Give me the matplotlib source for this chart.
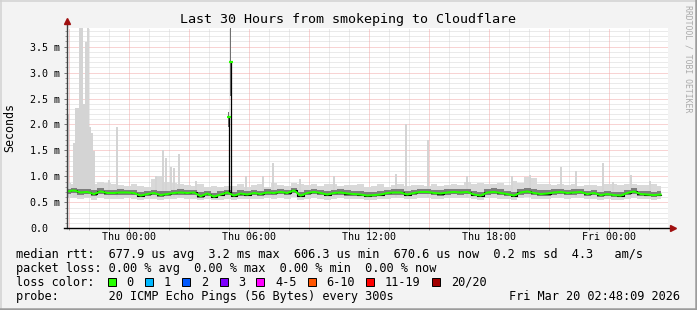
import numpy as np
import matplotlib
matplotlib.use("Agg")
import matplotlib.pyplot as plt
from matplotlib.patches import Rectangle
from matplotlib.lines import Line2D

W, H, DPI = 697, 310, 100
MONO = "DejaVu Sans Mono"

# ---------------- data (ms, hours relative to Thu 00:00) ----------------
T_START = -3.1
T_STEP = 1 / 3  # 20 minute samples

median = [
    0.71, 0.73, 0.69, 0.70, 0.66, 0.71, 0.68, 0.68, 0.69, 0.69,
    0.68, 0.63, 0.66, 0.68, 0.64, 0.66, 0.68, 0.69, 0.68, 0.69,
    0.62, 0.67, 0.61, 0.65, 0.69, 0.63, 0.67, 0.65, 0.68, 0.66,
    0.69, 0.68, 0.70, 0.68, 0.73, 0.63, 0.68, 0.70, 0.68, 0.65,
    0.68, 0.69, 0.67, 0.66, 0.65, 0.63, 0.64, 0.65, 0.68, 0.69,
    0.69, 0.65, 0.68, 0.70, 0.70, 0.68, 0.67, 0.69, 0.70, 0.69,
    0.70, 0.65, 0.63, 0.69, 0.70, 0.68, 0.66, 0.63, 0.69, 0.71,
    0.68, 0.66, 0.67, 0.69, 0.70, 0.68, 0.69, 0.70, 0.66, 0.68,
    0.64, 0.66, 0.64, 0.63, 0.68, 0.71, 0.66, 0.65, 0.64, 0.65,
]
smoke_p75 = [
    0.76, 0.78, 0.75, 0.76, 0.73, 0.77, 0.74, 0.74, 0.75, 0.74,
    0.74, 0.70, 0.72, 0.74, 0.71, 0.72, 0.74, 0.75, 0.73, 0.74,
    0.69, 0.72, 0.68, 0.71, 0.74, 0.69, 0.73, 0.71, 0.74, 0.72,
    0.75, 0.74, 0.76, 0.74, 0.78, 0.70, 0.74, 0.76, 0.74, 0.71,
    0.74, 0.75, 0.73, 0.72, 0.71, 0.69, 0.70, 0.71, 0.74, 0.76,
    0.75, 0.71, 0.74, 0.76, 0.76, 0.74, 0.73, 0.75, 0.76, 0.75,
    0.76, 0.72, 0.70, 0.75, 0.77, 0.75, 0.72, 0.70, 0.76, 0.78,
    0.75, 0.73, 0.73, 0.75, 0.76, 0.74, 0.75, 0.76, 0.72, 0.74,
    0.70, 0.72, 0.70, 0.69, 0.74, 0.77, 0.72, 0.71, 0.70, 0.71,
]
smoke_p25 = [
    0.67, 0.68, 0.65, 0.66, 0.62, 0.67, 0.64, 0.64, 0.65, 0.65,
    0.64, 0.60, 0.63, 0.64, 0.61, 0.63, 0.64, 0.65, 0.64, 0.65,
    0.59, 0.63, 0.58, 0.62, 0.65, 0.60, 0.63, 0.62, 0.64, 0.62,
    0.65, 0.64, 0.66, 0.64, 0.68, 0.60, 0.64, 0.66, 0.64, 0.62,
    0.64, 0.65, 0.63, 0.62, 0.62, 0.60, 0.61, 0.62, 0.64, 0.65,
    0.65, 0.62, 0.64, 0.66, 0.66, 0.64, 0.63, 0.65, 0.66, 0.65,
    0.66, 0.62, 0.60, 0.65, 0.66, 0.64, 0.63, 0.60, 0.65, 0.67,
    0.64, 0.63, 0.63, 0.65, 0.66, 0.64, 0.65, 0.66, 0.63, 0.64,
    0.61, 0.63, 0.61, 0.60, 0.64, 0.67, 0.63, 0.62, 0.61, 0.62,
]
smoke_max = [
    0.87, 0.86, 0.88, 0.88, 0.86, 0.90, 0.88, 0.85, 0.83, 0.82,
    0.85, 0.82, 0.80, 0.95, 1.00, 0.90, 0.88, 0.85, 0.83, 0.82,
    0.85, 0.80, 0.82, 0.80, 0.82, 0.82, 0.85, 0.80, 0.84, 0.85,
    0.80, 0.88, 0.84, 0.82, 0.88, 0.86, 0.84, 0.85, 0.82, 0.85,
    0.86, 0.82, 0.83, 0.84, 0.85, 0.80, 0.82, 0.86, 0.80, 0.84,
    0.86, 0.82, 0.83, 0.84, 0.82, 0.85, 0.82, 0.83, 0.86, 0.84,
    0.90, 0.86, 0.88, 0.85, 0.86, 0.87, 0.83, 0.92, 0.88, 0.98,
    0.96, 0.86, 0.85, 0.83, 0.85, 0.84, 0.86, 0.82, 0.83, 0.84,
    0.82, 0.85, 0.86, 0.84, 0.85, 0.86, 0.83, 0.84, 0.86, 0.82,
]
smoke_min = [
    0.59, 0.58, 0.57, 0.58, 0.55, 0.58, 0.57, 0.56, 0.57, 0.58,
    0.57, 0.55, 0.56, 0.57, 0.55, 0.56, 0.57, 0.58, 0.57, 0.57,
    0.54, 0.56, 0.54, 0.55, 0.57, 0.55, 0.57, 0.56, 0.57, 0.56,
    0.58, 0.57, 0.58, 0.57, 0.60, 0.55, 0.57, 0.58, 0.57, 0.55,
    0.57, 0.58, 0.56, 0.56, 0.56, 0.55, 0.55, 0.56, 0.57, 0.58,
    0.58, 0.56, 0.57, 0.58, 0.59, 0.57, 0.57, 0.58, 0.59, 0.58,
    0.59, 0.56, 0.55, 0.58, 0.59, 0.57, 0.56, 0.55, 0.58, 0.60,
    0.57, 0.56, 0.57, 0.58, 0.59, 0.57, 0.58, 0.59, 0.56, 0.57,
    0.55, 0.56, 0.55, 0.55, 0.57, 0.59, 0.56, 0.56, 0.55, 0.56,
]

# isolated ping spikes (hour, max ms)
spike_t = [-3.08, -2.75, -2.65, -2.55, -2.45, -2.35, -2.25, -2.15, -2.05,
           -1.95, -1.85, -1.75, -1.02, -0.62, 1.33, 1.67, 1.82, 2.08, 2.23,
           2.48, 3.33, 5.83, 6.68, 7.18, 8.53, 10.23, 13.33, 13.83, 14.93,
           16.89, 19.13, 20.03, 21.58, 22.33, 23.68, 24.18, 25.08, 26.03]
spike_max = [2.20, 1.64, 2.32, 2.32, 3.90, 3.90, 2.40, 3.58, 3.90,
             1.96, 1.83, 1.48, 0.93, 1.96, 1.00, 1.50, 1.35, 1.19, 1.16,
             1.43, 0.92, 1.00, 1.00, 1.26, 0.95, 1.00, 1.05, 2.01, 1.70,
             1.00, 1.00, 1.03, 1.19, 1.10, 1.25, 0.90, 1.03, 0.92]

# latency burst around Thu 05:00
burst_t = [4.96, 5.06]
burst_median = [2.15, 3.20]
burst_low = [1.95, 2.55]
burst_high = [2.25, 3.90]

x_tick_pos = [0, 6, 12, 18, 24]
x_tick_labels = ["Thu 00:00", "Thu 06:00", "Thu 12:00", "Thu 18:00", "Fri 00:00"]
y_tick_pos = [0.0, 0.5, 1.0, 1.5, 2.0, 2.5, 3.0, 3.5]
y_tick_labels = ["0.0", "0.5 m", "1.0 m", "1.5 m", "2.0 m", "2.5 m", "3.0 m", "3.5 m"]

loss_labels = ["0", "1", "2", "3", "4-5", "6-10", "11-19", "20/20"]
loss_colors = ["#26ff00", "#00b8ff", "#0059ff", "#7e00ff", "#ff00ff",
               "#ff5500", "#ff0000", "#a10000"]

title = "Last 30 Hours from smokeping to Cloudflare"
row_median = "median rtt:  677.9 us avg  3.2 ms max  606.3 us min  670.6 us now  0.2 ms sd  4.3   am/s"
row_loss = "packet loss: 0.00 % avg  0.00 % max  0.00 % min  0.00 % now"
row_probe = "probe:       20 ICMP Echo Pings (56 Bytes) every 300s"
stamp = "Fri Mar 20 02:48:09 2026"

# ---------------- figure ----------------
def fx(px):
    return px / W


def fy(py):
    return 1 - py / H


fig = plt.figure(figsize=(W / DPI, H / DPI), dpi=DPI, facecolor="#F3F3F3")
X0, X1, Y0, Y1 = 67, 668, 228.3, 28
ax = fig.add_axes([fx(X0), fy(Y0), (X1 - X0) / W, (Y0 - Y1) / H])
ax.set_facecolor("white")
ax.set_xlim(-3.115, 26.935)
ax.set_ylim(0, 3.859)

t = T_START + T_STEP * np.arange(len(median))

# grid (dotted, under data)
for h in range(-3, 27):
    major = (h % 3 == 0)
    ax.axvline(h, color="#F2A8A8" if major else "#D6D6D6", lw=0.72,
               dashes=(1, 1), zorder=0.5 if major else 0.4)
for k in range(1, 39):
    v = k * 0.1
    major = (k % 5 == 0)
    ax.axhline(v, color="#F2A8A8" if major else "#D6D6D6", lw=0.72,
               dashes=(1, 1), zorder=0.5 if major else 0.4)

# smoke
ax.fill_between(t, smoke_min, smoke_max, step="mid", color="#D9D9D9", lw=0, zorder=1)
ax.bar(spike_t, np.array(spike_max) - 0.6, bottom=0.6, width=0.1,
       color="#D4D4D4", lw=0, zorder=1.1)
ax.fill_between(t, smoke_p25, smoke_p75, step="mid", color="#7E7E7E", lw=0, zorder=1.2)

# burst
ax.bar(burst_t, np.array(burst_high) - np.array(burst_low), bottom=burst_low,
       width=0.09, color="#707070", lw=0, zorder=1.3)
base = np.interp(burst_t, t, median)
ax.vlines(burst_t, base, burst_median, color="black", lw=0.9, zorder=2)
ax.plot(burst_t, burst_median, ls="none", marker="_", ms=3, mew=1.6,
        color=loss_colors[0], zorder=3)

# median
ax.plot(t, median, drawstyle="steps-mid", color="black", lw=0.8, zorder=2)
ax.plot(t, median, color=loss_colors[0], lw=1.5, zorder=3)

# axes
for s in ax.spines.values():
    s.set_visible(False)
ax.add_line(Line2D([0, 0], [0, 1.03], transform=ax.transAxes, color="#404040",
                   lw=1, clip_on=False, zorder=5))
ax.add_line(Line2D([-0.005, 1.006], [0, 0], transform=ax.transAxes, color="black",
                   lw=1, clip_on=False, zorder=5))
ax.plot([0], [1.035], transform=ax.transAxes, marker="^", ms=5, color="#A01010",
        mec="#A01010", clip_on=False, zorder=6)
ax.plot([1.008], [0], transform=ax.transAxes, marker=">", ms=5, color="#A01010",
        mec="#A01010", clip_on=False, zorder=6)

ax.set_xticks(x_tick_pos, x_tick_labels)
ax.set_xticks(np.arange(-3, 27, 1), minor=True)
ax.set_yticks(y_tick_pos, y_tick_labels)
ax.set_yticks(np.arange(0, 3.86, 0.1), minor=True)
ax.tick_params(axis="x", which="major", length=2.2, width=0.7, color="#777777",
               pad=0.8, labelsize=7.2)
ax.tick_params(axis="x", which="minor", length=1.5, width=0.7, color="#999999")
ax.tick_params(axis="y", which="major", length=2.2, width=0.7, color="#777777",
               pad=24.4, labelsize=7.2)
ax.tick_params(axis="y", which="minor", length=1.5, width=0.7, color="#999999")
for lab in ax.get_yticklabels():
    lab.set_horizontalalignment("left")
for lab in ax.get_xticklabels() + ax.get_yticklabels():
    lab.set_fontfamily(MONO)

# texts
fig.text(fx(347.5), fy(19), title, family=MONO, size=9.6, ha="center", va="center")
fig.text(fx(10), fy(127.5), "Seconds", family=MONO, size=8.4, rotation=90,
         ha="center", va="center")
fig.text(fx(688), fy(59), "RRDTOOL / TOBI OETIKER", family=MONO, size=5.9,
         rotation=270, color="#AAAAAA", ha="center", va="center")

LS = 8.55
fig.text(fx(16), fy(254.3), row_median, family=MONO, size=LS, va="center")
fig.text(fx(16), fy(268.3), row_loss, family=MONO, size=LS, va="center")
fig.text(fx(16), fy(282.3), "loss color:", family=MONO, size=LS, va="center")
fig.text(fx(16), fy(296.3), row_probe, family=MONO, size=LS, va="center")
fig.text(fx(680), fy(296.3), stamp, family=MONO, size=LS, va="center", ha="right")

box_x = [108, 145.3, 182.2, 219.6, 256.4, 307.6, 365.8, 432]
for bx, lab, col in zip(box_x, loss_labels, loss_colors):
    fig.add_artist(Rectangle((fx(bx), fy(286)), 8 / W, 8 / H, transform=fig.transFigure,
                             facecolor=col, edgecolor="black", lw=0.7))
    fig.text(fx(bx + 18.7), fy(282.3), lab, family=MONO, size=LS, va="center")

# frame shading
fig.add_artist(Line2D([0, 1], [fy(0.75), fy(0.75)], transform=fig.transFigure,
                      color="#D2D2D2", lw=1.1))
fig.add_artist(Line2D([fx(0.75), fx(0.75)], [0, 1], transform=fig.transFigure,
                      color="#D2D2D2", lw=1.1))
fig.add_artist(Line2D([0, 1], [fy(308.8), fy(308.8)], transform=fig.transFigure,
                      color="#9C9C9C", lw=1.8))
fig.add_artist(Line2D([fx(695.8), fx(695.8)], [0, 1], transform=fig.transFigure,
                      color="#9C9C9C", lw=1.8))

fig.savefig("out.png", dpi=DPI, facecolor=fig.get_facecolor())
